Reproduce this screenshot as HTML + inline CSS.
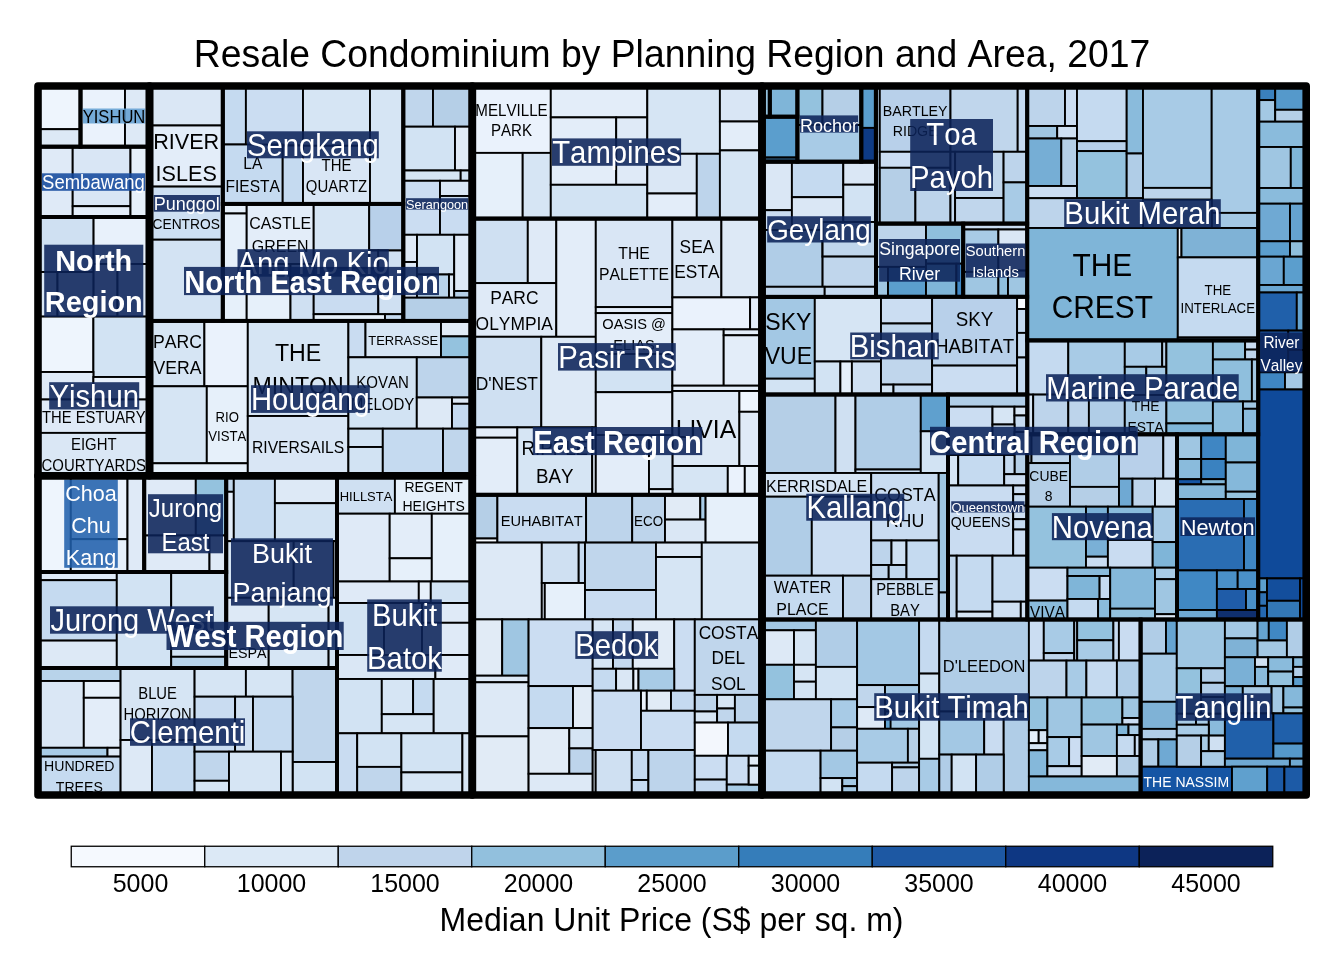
<!DOCTYPE html>
<html><head><meta charset="utf-8"><title>Resale Condominium by Planning Region and Area, 2017</title>
<style>html,body{margin:0;padding:0;background:#fff;}svg{display:block;will-change:transform;}text{font-family:"Liberation Sans", sans-serif;font-kerning:none;}</style></head><body>
<svg width="1344" height="960" viewBox="0 0 1344 960">
<rect x="0" y="0" width="1344" height="960" fill="#ffffff"/>
<text transform="translate(672 66.6) scale(1 1.05)" font-size="37.33" text-anchor="middle" fill="#000">Resale Condominium by Planning Region and Area, 2017</text>
<g fill="#c5daf0">
<rect x="38" y="86" width="42.5" height="60.7"/>
<rect x="80.5" y="86" width="69" height="60.7"/>
<rect x="38" y="146.7" width="111.5" height="70.3"/>
<rect x="38" y="217" width="111.5" height="258.7"/>
<rect x="149.5" y="86" width="73.3" height="234.9"/>
<rect x="222.8" y="86" width="180.5" height="117.9"/>
<rect x="222.8" y="203.9" width="180.5" height="117"/>
<rect x="403.3" y="86" width="69" height="234.9"/>
<rect x="149.5" y="320.9" width="322.8" height="154.8"/>
<rect x="38" y="475.7" width="106.2" height="96.3"/>
<rect x="144.2" y="475.7" width="82" height="96.3"/>
<rect x="38" y="572" width="188.2" height="96"/>
<rect x="226.2" y="475.7" width="110.8" height="192.3"/>
<rect x="38" y="668" width="299" height="127"/>
<rect x="337" y="475.7" width="135.3" height="319.3"/>
<rect x="472.3" y="86" width="289.7" height="132.6"/>
<rect x="472.3" y="218.6" width="289.7" height="276.2"/>
<rect x="472.3" y="494.8" width="289.7" height="300.2"/>
<rect x="762" y="86" width="7.8" height="30.7"/>
<rect x="769.8" y="86" width="27.6" height="30.7"/>
<rect x="762" y="116.7" width="35.4" height="45"/>
<rect x="797.4" y="86" width="63.9" height="75.7"/>
<rect x="861.3" y="86" width="14.5" height="75.7"/>
<rect x="762" y="161.7" width="114" height="135.3"/>
<rect x="876" y="86" width="151.2" height="137.6"/>
<rect x="876" y="223.6" width="87.2" height="73.2"/>
<rect x="963.2" y="223.6" width="64" height="73.2"/>
<rect x="762" y="296.8" width="265.2" height="97.7"/>
<rect x="762" y="394.5" width="186" height="225"/>
<rect x="948" y="394.5" width="79.3" height="225"/>
<rect x="1027.2" y="86" width="231" height="254.4"/>
<rect x="1258.2" y="86" width="48" height="533.5"/>
<rect x="1027.3" y="340.4" width="231" height="93.9"/>
<rect x="1027.3" y="434.3" width="149.7" height="185.2"/>
<rect x="1177" y="434.3" width="81.2" height="185.2"/>
<rect x="762" y="619.5" width="378.6" height="175.5"/>
<rect x="1140.6" y="619.5" width="165.6" height="175.5"/>
</g>
<g stroke="#000" stroke-width="1.9">
<rect x="38" y="86" width="42.5" height="43.2" fill="#eef5fd"/>
<rect x="38" y="129.2" width="42.5" height="17.5" fill="#dde9f6"/>
<rect x="80.5" y="86" width="44.5" height="60.7" fill="#eaf2fc"/>
<rect x="125" y="86" width="24.5" height="60.7" fill="#dde9f6"/>
<rect x="38" y="146.7" width="34.7" height="70.3" fill="#dfeaf7"/>
<rect x="72.7" y="146.7" width="57.8" height="59.5" fill="#d9e6f5"/>
<rect x="72.7" y="206.2" width="57.8" height="10.8" fill="#e4eefa"/>
<rect x="130.5" y="146.7" width="19" height="70.3" fill="#e6f0fa"/>
<rect x="38" y="217" width="55.6" height="55" fill="#cfe0f2"/>
<rect x="93.6" y="217" width="55.9" height="47" fill="#e8f1fb"/>
<rect x="38" y="272" width="19.5" height="44.6" fill="#dae7f5"/>
<rect x="57.5" y="272" width="36.1" height="44.6" fill="#d6e5f4"/>
<rect x="93.6" y="264" width="23.9" height="52.6" fill="#dde9f6"/>
<rect x="117.5" y="264" width="32" height="52.6" fill="#dae7f5"/>
<rect x="38" y="316.6" width="55.4" height="55.4" fill="#eef5fd"/>
<rect x="93.4" y="316.6" width="56.1" height="60.4" fill="#d2e3f3"/>
<rect x="38" y="372" width="55.4" height="27.5" fill="#dfeaf7"/>
<rect x="93.4" y="377" width="56.1" height="22.5" fill="#e8f1fb"/>
<rect x="38" y="399.5" width="111.5" height="33.4" fill="#dfeaf7"/>
<rect x="38" y="432.9" width="111.5" height="42.8" fill="#dae7f5"/>
<rect x="149.5" y="86" width="73.3" height="39.5" fill="#dae7f5"/>
<rect x="149.5" y="125.5" width="73.3" height="61.1" fill="#e3edf9"/>
<rect x="149.5" y="186.6" width="73.3" height="53.1" fill="#cddff2"/>
<rect x="149.5" y="239.7" width="73.3" height="81.2" fill="#d3e3f3"/>
<rect x="222.8" y="86" width="23.1" height="58.5" fill="#c5daf0"/>
<rect x="245.9" y="86" width="57.1" height="59.5" fill="#cbddf2"/>
<rect x="222.8" y="144.5" width="59.9" height="59.4" fill="#c5daf0"/>
<rect x="282.7" y="145.5" width="20.3" height="58.4" fill="#c5daf0"/>
<rect x="303" y="86" width="67" height="59.8" fill="#d6e5f4"/>
<rect x="303" y="145.8" width="67" height="58.1" fill="#d9e6f5"/>
<rect x="370" y="86" width="33.3" height="117.9" fill="#d6e5f4"/>
<rect x="222.8" y="203.9" width="23.9" height="9.6" fill="#e6f0fa"/>
<rect x="222.8" y="213.5" width="23.9" height="107.4" fill="#e6f0fa"/>
<rect x="246.7" y="203.9" width="67" height="60.1" fill="#e3edf9"/>
<rect x="246.7" y="264" width="43.8" height="56.9" fill="#e6f0fa"/>
<rect x="290.5" y="264" width="23.2" height="56.9" fill="#cfe0f2"/>
<rect x="313.7" y="203.9" width="55.5" height="64.1" fill="#d6e5f4"/>
<rect x="369.2" y="203.9" width="34.1" height="46.6" fill="#b8d0ea"/>
<rect x="313.7" y="268" width="64.6" height="46.2" fill="#c9dcf1"/>
<rect x="369.2" y="250.5" width="9.1" height="17.5" fill="#cfe0f2"/>
<rect x="378.3" y="250.5" width="25" height="63.7" fill="#cfe0f2"/>
<rect x="313.7" y="314.2" width="71.3" height="6.7" fill="#e6f0fa"/>
<rect x="385" y="314.2" width="18.3" height="6.7" fill="#c5daf0"/>
<rect x="403.3" y="86" width="29.7" height="40.7" fill="#c0d6ec"/>
<rect x="433" y="86" width="39.3" height="40.7" fill="#b5cfe7"/>
<rect x="403.3" y="126.7" width="51.7" height="43.8" fill="#d2e3f3"/>
<rect x="455" y="126.7" width="17.3" height="43.8" fill="#e1ebf6"/>
<rect x="403.3" y="170.5" width="57.4" height="10.3" fill="#d6e5f4"/>
<rect x="460.7" y="170.5" width="11.6" height="10.3" fill="#d2e3f3"/>
<rect x="403.3" y="180.8" width="36.7" height="54" fill="#cbddf2"/>
<rect x="440" y="180.8" width="32.3" height="15.2" fill="#dae7f5"/>
<rect x="440" y="196" width="32.3" height="38.8" fill="#c9dcf1"/>
<rect x="403.3" y="234.8" width="13.7" height="27.2" fill="#dfeaf7"/>
<rect x="403.3" y="262" width="13.7" height="35.7" fill="#dfeaf7"/>
<rect x="417" y="234.8" width="37.2" height="39.7" fill="#d2e3f3"/>
<rect x="417" y="274.5" width="32" height="23.2" fill="#b8d3ea"/>
<rect x="449" y="274.5" width="5.2" height="23.2" fill="#dde9f6"/>
<rect x="454.2" y="234.8" width="18.1" height="56.2" fill="#dfeaf7"/>
<rect x="454.2" y="291" width="18.1" height="6.7" fill="#b5cfe7"/>
<rect x="403.3" y="297.7" width="69" height="23.2" fill="#b5cfe7"/>
<rect x="149.5" y="320.9" width="54.9" height="65.4" fill="#d6e5f4"/>
<rect x="204.4" y="320.9" width="43.4" height="65.4" fill="#eaf2fc"/>
<rect x="149.5" y="386.3" width="57.3" height="77" fill="#d6e5f4"/>
<rect x="206.8" y="386.3" width="41" height="77" fill="#e6f0fa"/>
<rect x="149.5" y="463.3" width="98.3" height="12.4" fill="#e6f0fa"/>
<rect x="247.8" y="320.9" width="100.6" height="95.1" fill="#d6e5f4"/>
<rect x="247.8" y="416" width="100.6" height="59.7" fill="#d9e6f5"/>
<rect x="348.4" y="320.9" width="17.1" height="36.4" fill="#c9dcf1"/>
<rect x="365.5" y="320.9" width="75.5" height="36.4" fill="#d6e5f4"/>
<rect x="441" y="320.9" width="31.3" height="15.5" fill="#e1ebf6"/>
<rect x="441" y="336.4" width="31.3" height="20.9" fill="#94c2de"/>
<rect x="348.4" y="357.3" width="68.4" height="71.4" fill="#d2e3f3"/>
<rect x="416.8" y="357.3" width="55.5" height="40.2" fill="#bdd4eb"/>
<rect x="416.8" y="397.5" width="35.2" height="31.2" fill="#dde9f6"/>
<rect x="452" y="397.5" width="20.3" height="6.3" fill="#dde9f6"/>
<rect x="452" y="403.8" width="20.3" height="24.9" fill="#c5daf0"/>
<rect x="348.4" y="428.7" width="34.4" height="18.3" fill="#d2e3f3"/>
<rect x="348.4" y="447" width="34.4" height="28.7" fill="#d2e3f3"/>
<rect x="382.8" y="428.7" width="60.2" height="47" fill="#c5daf0"/>
<rect x="443" y="428.7" width="29.3" height="47" fill="#c0d6ec"/>
<rect x="38" y="475.7" width="32.8" height="96.3" fill="#eef5fd"/>
<rect x="70.8" y="475.7" width="56.7" height="63.5" fill="#eaf2fc"/>
<rect x="70.8" y="539.2" width="56.7" height="32.8" fill="#e6f0fa"/>
<rect x="127.5" y="475.7" width="16.7" height="96.3" fill="#dfeaf7"/>
<rect x="144.2" y="475.7" width="51.6" height="59.8" fill="#dfeaf7"/>
<rect x="195.8" y="475.7" width="30.4" height="59.8" fill="#94c2de"/>
<rect x="144.2" y="535.5" width="65.3" height="36.5" fill="#dfeaf7"/>
<rect x="209.5" y="535.5" width="16.7" height="36.5" fill="#dfeaf7"/>
<rect x="38" y="572" width="78.8" height="8.2" fill="#dfeaf7"/>
<rect x="38" y="580.2" width="78.8" height="60.4" fill="#c5daf0"/>
<rect x="38" y="640.6" width="78.8" height="27.4" fill="#dde9f6"/>
<rect x="116.8" y="572" width="54.4" height="96" fill="#d2e3f3"/>
<rect x="171.2" y="572" width="55" height="84.8" fill="#d2e3f3"/>
<rect x="171.2" y="656.8" width="55" height="11.2" fill="#b8d3ea"/>
<rect x="226.2" y="475.7" width="7.6" height="16.1" fill="#c0d6ec"/>
<rect x="226.2" y="491.8" width="7.6" height="49.4" fill="#e3edf9"/>
<rect x="233.8" y="475.7" width="41.1" height="65.5" fill="#c5daf0"/>
<rect x="274.9" y="475.7" width="62.1" height="27.5" fill="#dde9f6"/>
<rect x="274.9" y="503.2" width="62.1" height="38" fill="#d2e3f3"/>
<rect x="226.2" y="541.2" width="67.5" height="56.6" fill="#d6e5f4"/>
<rect x="293.7" y="541.2" width="39.8" height="56.6" fill="#dae7f5"/>
<rect x="333.5" y="541.2" width="3.5" height="56.6" fill="#dde9f6"/>
<rect x="226.2" y="597.8" width="42.5" height="70.2" fill="#dde9f6"/>
<rect x="268.7" y="597.8" width="59.9" height="70.2" fill="#d6e5f4"/>
<rect x="328.6" y="597.8" width="8.4" height="70.2" fill="#d2e3f3"/>
<rect x="38" y="668" width="82.6" height="13" fill="#b8d3ea"/>
<rect x="38" y="681" width="45.8" height="66.8" fill="#dae7f5"/>
<rect x="83.8" y="681" width="36.8" height="16.8" fill="#e6f0fa"/>
<rect x="83.8" y="697.8" width="36.8" height="50" fill="#e3edf9"/>
<rect x="38" y="747.8" width="69.5" height="8.8" fill="#a8cbe6"/>
<rect x="107.5" y="747.8" width="13.1" height="8.8" fill="#dde9f6"/>
<rect x="38" y="756.6" width="82.6" height="38.4" fill="#c5daf0"/>
<rect x="120.6" y="668" width="74" height="72" fill="#d6e5f4"/>
<rect x="120.6" y="740" width="31.4" height="55" fill="#dde9f6"/>
<rect x="152" y="740" width="42.6" height="55" fill="#c5daf0"/>
<rect x="194.6" y="668" width="51.3" height="28.7" fill="#d6e5f4"/>
<rect x="245.9" y="668" width="46.7" height="28.7" fill="#d6e5f4"/>
<rect x="292.6" y="668" width="44.4" height="94" fill="#c0d6ec"/>
<rect x="292.6" y="762" width="44.4" height="33" fill="#d2e3f3"/>
<rect x="194.6" y="696.7" width="40.5" height="55" fill="#c9dcf1"/>
<rect x="235.1" y="696.7" width="17.9" height="55" fill="#cfe0f2"/>
<rect x="253" y="696.7" width="39.6" height="55" fill="#c5daf0"/>
<rect x="194.6" y="751.7" width="34.4" height="29.1" fill="#c0d6ec"/>
<rect x="194.6" y="780.8" width="34.4" height="14.2" fill="#d6e5f4"/>
<rect x="229" y="751.7" width="52" height="43.3" fill="#d6e5f4"/>
<rect x="281" y="751.7" width="11.6" height="43.3" fill="#d6e5f4"/>
<rect x="337" y="475.7" width="57.9" height="38" fill="#cfe0f2"/>
<rect x="394.9" y="475.7" width="77.4" height="38" fill="#e6f0fa"/>
<rect x="337" y="513.7" width="52.7" height="67.8" fill="#dfeaf7"/>
<rect x="389.7" y="513.7" width="42.1" height="44.6" fill="#e3edf9"/>
<rect x="389.7" y="558.3" width="42.1" height="23.2" fill="#e6f0fa"/>
<rect x="431.8" y="513.7" width="40.5" height="67.8" fill="#e6f0fa"/>
<rect x="337" y="581.5" width="81.8" height="21.5" fill="#dfeaf7"/>
<rect x="418.8" y="581.5" width="12" height="21.5" fill="#e6f0fa"/>
<rect x="430.8" y="581.5" width="41.5" height="21.5" fill="#d2e3f3"/>
<rect x="337" y="603" width="47" height="52" fill="#d2e3f3"/>
<rect x="384" y="603" width="38" height="52" fill="#d6e5f4"/>
<rect x="422" y="603" width="50.3" height="19.8" fill="#dfeaf7"/>
<rect x="422" y="622.8" width="50.3" height="32.2" fill="#dfeaf7"/>
<rect x="337" y="655" width="98.4" height="24" fill="#dae7f5"/>
<rect x="435.4" y="655" width="36.9" height="24" fill="#dfeaf7"/>
<rect x="337" y="679" width="44.8" height="54.3" fill="#d2e3f3"/>
<rect x="381.8" y="679" width="31.3" height="35.2" fill="#d6e5f4"/>
<rect x="413.1" y="679" width="20.6" height="35.2" fill="#c5daf0"/>
<rect x="381.8" y="714.2" width="51.9" height="19.1" fill="#d6e5f4"/>
<rect x="433.7" y="679" width="38.6" height="54.3" fill="#d6e5f4"/>
<rect x="337" y="733.3" width="20.2" height="61.7" fill="#c9dcf1"/>
<rect x="357.2" y="733.3" width="44.2" height="33.6" fill="#d2e3f3"/>
<rect x="357.2" y="766.9" width="44.2" height="28.1" fill="#c0d6ec"/>
<rect x="401.4" y="733.3" width="61" height="39.1" fill="#d2e3f3"/>
<rect x="401.4" y="772.4" width="61" height="22.6" fill="#d6e5f4"/>
<rect x="462.4" y="733.3" width="9.9" height="61.7" fill="#d6e5f4"/>
<rect x="472.3" y="86" width="78.5" height="66.9" fill="#eaf2fc"/>
<rect x="472.3" y="152.9" width="50.4" height="65.7" fill="#e6f0fa"/>
<rect x="522.7" y="152.9" width="28.1" height="65.7" fill="#d6e5f4"/>
<rect x="550.8" y="86" width="96.5" height="31.4" fill="#e3edf9"/>
<rect x="550.8" y="117.4" width="65.4" height="67.4" fill="#e3edf9"/>
<rect x="616.2" y="117.4" width="31.1" height="67.4" fill="#dfeaf7"/>
<rect x="550.8" y="184.8" width="96.5" height="33.8" fill="#d2e3f3"/>
<rect x="647.3" y="86" width="72.6" height="67.8" fill="#d6e5f4"/>
<rect x="647.3" y="153.8" width="49.5" height="39.7" fill="#dae7f5"/>
<rect x="647.3" y="193.5" width="49.5" height="25.1" fill="#e3edf9"/>
<rect x="696.8" y="153.8" width="23.1" height="64.8" fill="#bdd4eb"/>
<rect x="719.9" y="86" width="42.1" height="35.5" fill="#d9e6f5"/>
<rect x="719.9" y="121.5" width="42.1" height="28.9" fill="#e3edf9"/>
<rect x="719.9" y="150.4" width="42.1" height="68.2" fill="#d6e5f4"/>
<rect x="472.3" y="218.6" width="55.5" height="64.5" fill="#cfe0f2"/>
<rect x="527.8" y="218.6" width="28.5" height="64.5" fill="#dfeaf7"/>
<rect x="472.3" y="283.1" width="84" height="53.7" fill="#dfeaf7"/>
<rect x="556.3" y="218.6" width="39.5" height="118.2" fill="#e3edf9"/>
<rect x="472.3" y="336.8" width="69" height="90.6" fill="#cfe0f2"/>
<rect x="541.3" y="336.8" width="54.5" height="90.6" fill="#dde9f6"/>
<rect x="595.8" y="218.6" width="76.6" height="88.5" fill="#d9e6f5"/>
<rect x="595.8" y="307.1" width="76.6" height="6" fill="#e3edf9"/>
<rect x="595.8" y="313.1" width="76.6" height="40.9" fill="#e3edf9"/>
<rect x="595.8" y="354" width="76.6" height="38.2" fill="#d2e3f3"/>
<rect x="595.8" y="392.2" width="76.6" height="42.8" fill="#e3edf9"/>
<rect x="672.4" y="218.6" width="49" height="78.8" fill="#dae7f5"/>
<rect x="721.4" y="218.6" width="40.6" height="78.8" fill="#dde9f6"/>
<rect x="672.4" y="297.4" width="77.7" height="32" fill="#eaf2fc"/>
<rect x="750.1" y="297.4" width="11.9" height="32" fill="#e3edf9"/>
<rect x="672.4" y="329.4" width="51.3" height="56.3" fill="#e3edf9"/>
<rect x="723.7" y="329.4" width="38.3" height="5.9" fill="#e3edf9"/>
<rect x="723.7" y="335.3" width="38.3" height="50.4" fill="#e3edf9"/>
<rect x="672.4" y="385.7" width="89.6" height="5.3" fill="#e3edf9"/>
<rect x="672.4" y="391" width="67" height="75" fill="#dde9f6"/>
<rect x="739.4" y="391" width="22.6" height="20.8" fill="#eef5fd"/>
<rect x="739.4" y="411.8" width="22.6" height="54.2" fill="#dfeaf7"/>
<rect x="672.4" y="466" width="55.4" height="28.8" fill="#d6e5f4"/>
<rect x="727.8" y="466" width="17" height="28.8" fill="#eaf2fc"/>
<rect x="744.8" y="466" width="17.2" height="28.8" fill="#e6f0fa"/>
<rect x="472.3" y="427.4" width="45" height="10.3" fill="#e3edf9"/>
<rect x="472.3" y="437.7" width="45" height="57.1" fill="#e3edf9"/>
<rect x="517.3" y="427.4" width="74.9" height="67.4" fill="#d6e5f4"/>
<rect x="592.2" y="427.4" width="3.6" height="67.4" fill="#dde9f6"/>
<rect x="595.8" y="435" width="53.2" height="59.8" fill="#e3edf9"/>
<rect x="649" y="435" width="23.4" height="54.2" fill="#d6e5f4"/>
<rect x="649" y="489.2" width="23.4" height="5.6" fill="#eaf2fc"/>
<rect x="472.3" y="494.8" width="25.1" height="43.7" fill="#b5cfe7"/>
<rect x="472.3" y="538.5" width="25.1" height="4.1" fill="#f7fbff"/>
<rect x="497.4" y="494.8" width="88.7" height="47.8" fill="#c9dcf1"/>
<rect x="586.1" y="494.8" width="46.1" height="47.8" fill="#bdd4eb"/>
<rect x="632.2" y="494.8" width="32.8" height="47.8" fill="#bdd4eb"/>
<rect x="665" y="494.8" width="35.3" height="24.8" fill="#e1ebf6"/>
<rect x="700.3" y="494.8" width="5.3" height="24.8" fill="#a8cbe6"/>
<rect x="665" y="519.6" width="40.6" height="23" fill="#dae7f5"/>
<rect x="705.6" y="494.8" width="56.4" height="47.8" fill="#e6f0fa"/>
<rect x="472.3" y="542.6" width="69.5" height="76.8" fill="#dde9f6"/>
<rect x="541.8" y="542.6" width="36.9" height="40.4" fill="#cfe0f2"/>
<rect x="578.7" y="542.6" width="6.3" height="40.4" fill="#c5daf0"/>
<rect x="541.8" y="583" width="3" height="36.4" fill="#dde9f6"/>
<rect x="544.8" y="583" width="40.2" height="36.4" fill="#e6f0fa"/>
<rect x="585" y="542.6" width="71" height="47.4" fill="#c0d6ec"/>
<rect x="585" y="590" width="71" height="29.4" fill="#c9dcf1"/>
<rect x="656" y="542.6" width="45.8" height="14.4" fill="#dae7f5"/>
<rect x="656" y="557" width="45.8" height="62.4" fill="#d6e5f4"/>
<rect x="701.8" y="542.6" width="60.2" height="76.8" fill="#d6e5f4"/>
<rect x="472.3" y="619.4" width="29.9" height="56.3" fill="#e1ebf6"/>
<rect x="502.2" y="619.4" width="26.4" height="56.3" fill="#9fc6e2"/>
<rect x="472.3" y="675.7" width="56.3" height="6.6" fill="#dde9f6"/>
<rect x="472.3" y="682.3" width="56.3" height="54.1" fill="#dde9f6"/>
<rect x="472.3" y="736.4" width="56.3" height="58.6" fill="#e1ebf6"/>
<rect x="528.6" y="619.4" width="64.1" height="66.7" fill="#cbddf2"/>
<rect x="528.6" y="686.1" width="44.4" height="42" fill="#c5daf0"/>
<rect x="573" y="686.1" width="19.7" height="42" fill="#e1ebf6"/>
<rect x="528.6" y="728.1" width="40.7" height="45.7" fill="#e1ebf6"/>
<rect x="569.3" y="728.1" width="23.4" height="20.3" fill="#d6e5f4"/>
<rect x="569.3" y="748.4" width="23.4" height="25.4" fill="#bdd4eb"/>
<rect x="528.6" y="773.8" width="64.1" height="21.2" fill="#dde9f6"/>
<rect x="592.7" y="619.4" width="20.3" height="49.4" fill="#d6e5f4"/>
<rect x="613" y="619.4" width="19.8" height="49.4" fill="#c5daf0"/>
<rect x="632.8" y="619.4" width="41.4" height="49.4" fill="#e1ebf6"/>
<rect x="674.2" y="619.4" width="20.6" height="71.3" fill="#cbddf2"/>
<rect x="592.7" y="668.8" width="23.4" height="21.9" fill="#c5daf0"/>
<rect x="616.1" y="668.8" width="17.3" height="21.9" fill="#dae7f5"/>
<rect x="633.4" y="668.8" width="5.1" height="21.9" fill="#eaf2fc"/>
<rect x="638.5" y="668.8" width="35.7" height="21.9" fill="#a8cbe6"/>
<rect x="592.7" y="690.7" width="48.3" height="59.3" fill="#cbddf2"/>
<rect x="641" y="690.7" width="5.8" height="20.1" fill="#eaf2fc"/>
<rect x="646.8" y="690.7" width="24.2" height="20.1" fill="#e1ebf6"/>
<rect x="671" y="690.7" width="23.8" height="20.1" fill="#c5daf0"/>
<rect x="641" y="710.8" width="53.8" height="39.2" fill="#cbddf2"/>
<rect x="592.7" y="750" width="3" height="45" fill="#dde9f6"/>
<rect x="595.7" y="750" width="36.1" height="45" fill="#cfe0f2"/>
<rect x="631.8" y="750" width="16.6" height="30" fill="#c5daf0"/>
<rect x="631.8" y="780" width="16.6" height="15" fill="#c5daf0"/>
<rect x="648.4" y="750" width="46.4" height="45" fill="#bdd4eb"/>
<rect x="694.8" y="619.4" width="67.2" height="75.5" fill="#c0d6ec"/>
<rect x="694.8" y="694.9" width="22.3" height="16.6" fill="#bdd4eb"/>
<rect x="694.8" y="711.5" width="22.3" height="11.1" fill="#d6e5f4"/>
<rect x="717.1" y="694.9" width="17.8" height="13.6" fill="#d6e5f4"/>
<rect x="717.1" y="708.5" width="17.8" height="14.1" fill="#c0d6ec"/>
<rect x="734.9" y="694.9" width="27.1" height="27.7" fill="#bdd4eb"/>
<rect x="694.8" y="722.6" width="33.2" height="33.2" fill="#f3f7fd"/>
<rect x="728" y="722.6" width="34" height="33.2" fill="#c5daf0"/>
<rect x="694.8" y="755.8" width="32" height="23.8" fill="#cbddf2"/>
<rect x="694.8" y="779.6" width="32" height="15.4" fill="#c5daf0"/>
<rect x="726.8" y="755.8" width="21.9" height="28.8" fill="#cbddf2"/>
<rect x="726.8" y="784.6" width="35.2" height="10.4" fill="#a8cbe6"/>
<rect x="748.7" y="755.8" width="13.3" height="9.9" fill="#e1ebf6"/>
<rect x="748.7" y="765.7" width="13.3" height="18.9" fill="#dae7f5"/>
<rect x="762" y="86" width="7.8" height="30.7" fill="#94c2de"/>
<rect x="769.8" y="86" width="27.6" height="30.7" fill="#7fb5d8"/>
<rect x="762" y="116.7" width="35.4" height="40.8" fill="#5b9ecd"/>
<rect x="762" y="157.5" width="35.4" height="4.2" fill="#2f5f88"/>
<rect x="797.4" y="86" width="25.1" height="39" fill="#94c2de"/>
<rect x="822.5" y="86" width="38.8" height="39" fill="#b5cfe7"/>
<rect x="797.4" y="125" width="63.9" height="36.7" fill="#a8cbe6"/>
<rect x="861.3" y="86" width="14.5" height="41.9" fill="#5b9ecd"/>
<rect x="861.3" y="127.9" width="14.5" height="33.8" fill="#0e3b85"/>
<rect x="762" y="161.7" width="29.9" height="48.5" fill="#dae7f5"/>
<rect x="762" y="210.2" width="29.9" height="19.8" fill="#cbddf2"/>
<rect x="791.9" y="161.7" width="51.4" height="35.5" fill="#c5daf0"/>
<rect x="791.9" y="197.2" width="51.4" height="32.8" fill="#dae7f5"/>
<rect x="843.3" y="161.7" width="32.7" height="23" fill="#dae7f5"/>
<rect x="843.3" y="184.7" width="32.7" height="37.3" fill="#d2e3f3"/>
<rect x="762" y="230" width="60.6" height="56.8" fill="#b0cde7"/>
<rect x="822.6" y="230" width="20.7" height="26.6" fill="#c0d6ec"/>
<rect x="822.6" y="222" width="53.4" height="34.6" fill="#c0d6ec"/>
<rect x="822.6" y="256.6" width="53.4" height="30.2" fill="#c0d6ec"/>
<rect x="762" y="286.8" width="62.7" height="10.2" fill="#c0d6ec"/>
<rect x="824.7" y="286.8" width="51.3" height="10.2" fill="#c5daf0"/>
<rect x="876" y="86" width="3.8" height="137.6" fill="#b5cfe7"/>
<rect x="879.8" y="86" width="70.7" height="65.8" fill="#b8d0ea"/>
<rect x="950.5" y="86" width="67.2" height="65.8" fill="#c0d6ec"/>
<rect x="1017.7" y="86" width="9.5" height="65.8" fill="#c5daf0"/>
<rect x="879.8" y="151.8" width="70.7" height="16" fill="#cbddf2"/>
<rect x="879.8" y="167.8" width="35.6" height="55.8" fill="#b5cfe7"/>
<rect x="915.4" y="167.8" width="35.1" height="55.8" fill="#bdd4eb"/>
<rect x="950.5" y="151.8" width="4.6" height="71.8" fill="#c5daf0"/>
<rect x="955.1" y="151.8" width="48.5" height="46.2" fill="#c0d6ec"/>
<rect x="955.1" y="198" width="48.5" height="25.6" fill="#c0d6ec"/>
<rect x="1003.6" y="151.8" width="23.6" height="30.6" fill="#bdd4eb"/>
<rect x="1003.6" y="182.4" width="23.6" height="41.2" fill="#a8cbe6"/>
<rect x="876" y="223.6" width="50" height="43.3" fill="#bdd4eb"/>
<rect x="926" y="223.6" width="37.2" height="40.1" fill="#8fbfdd"/>
<rect x="876" y="266.9" width="12" height="29.9" fill="#9fc6e2"/>
<rect x="888" y="266.9" width="38" height="29.9" fill="#5b9ecd"/>
<rect x="926" y="263.7" width="30.4" height="33.1" fill="#7fb5d8"/>
<rect x="956.4" y="263.7" width="6.8" height="33.1" fill="#4088c4"/>
<rect x="963.2" y="223.6" width="64" height="5.9" fill="#c9dcf1"/>
<rect x="963.2" y="229.5" width="35.2" height="42.4" fill="#a8cbe6"/>
<rect x="998.4" y="229.5" width="28.8" height="41.1" fill="#dae7f5"/>
<rect x="963.2" y="271.9" width="35.2" height="24.9" fill="#9fc6e2"/>
<rect x="998.4" y="270.6" width="9.6" height="26.2" fill="#8fbfdd"/>
<rect x="1008" y="270.6" width="19.2" height="26.2" fill="#9fc6e2"/>
<rect x="762" y="296.8" width="52.8" height="81.9" fill="#a3c8e4"/>
<rect x="762" y="378.7" width="52.8" height="15.8" fill="#d2e3f3"/>
<rect x="814.8" y="296.8" width="66.2" height="64.7" fill="#d6e5f4"/>
<rect x="814.8" y="361.5" width="25.6" height="33" fill="#d2e3f3"/>
<rect x="840.4" y="361.5" width="11.5" height="33" fill="#e6f0fa"/>
<rect x="851.9" y="361.5" width="29.1" height="33" fill="#cfe0f2"/>
<rect x="881" y="296.8" width="51.1" height="26.7" fill="#cbddf2"/>
<rect x="881" y="323.5" width="51.1" height="61.1" fill="#c0d6ec"/>
<rect x="881" y="384.6" width="12.5" height="9.9" fill="#d2e3f3"/>
<rect x="893.5" y="384.6" width="38.6" height="9.9" fill="#c5daf0"/>
<rect x="932.1" y="296.8" width="85" height="68.8" fill="#b8d0ea"/>
<rect x="932.1" y="365.6" width="85" height="28.9" fill="#cbddf2"/>
<rect x="1017.1" y="296.8" width="10.1" height="12.2" fill="#f7fbff"/>
<rect x="1017.1" y="309" width="10.1" height="23.9" fill="#c5daf0"/>
<rect x="1017.1" y="332.9" width="10.1" height="24.6" fill="#c5daf0"/>
<rect x="1017.1" y="357.5" width="10.1" height="37" fill="#c5daf0"/>
<rect x="762" y="394.5" width="73.5" height="78.5" fill="#b5cfe7"/>
<rect x="835.5" y="394.5" width="20" height="78.5" fill="#cfe0f2"/>
<rect x="855.5" y="394.5" width="65.3" height="75" fill="#b0cde7"/>
<rect x="855.5" y="469.5" width="65.3" height="3.5" fill="#cbddf2"/>
<rect x="920.8" y="394.5" width="27.2" height="36.8" fill="#5fa0ce"/>
<rect x="920.8" y="431.3" width="27.2" height="41.7" fill="#d2e3f3"/>
<rect x="762" y="473" width="109.2" height="23.7" fill="#d6e5f4"/>
<rect x="762" y="496.7" width="49.8" height="79" fill="#b0cde7"/>
<rect x="811.8" y="496.7" width="59.4" height="79" fill="#cbddf2"/>
<rect x="762" y="575.7" width="81" height="43.8" fill="#c5daf0"/>
<rect x="843" y="575.7" width="28.2" height="43.8" fill="#c0d6ec"/>
<rect x="871.2" y="473" width="67.5" height="67.5" fill="#c9dcf1"/>
<rect x="938.7" y="473" width="9.3" height="119.5" fill="#9fc6e2"/>
<rect x="938.7" y="592.5" width="9.3" height="27" fill="#b0cde7"/>
<rect x="871.2" y="540.5" width="20.3" height="24.5" fill="#bdd4eb"/>
<rect x="891.5" y="540.5" width="15" height="24.5" fill="#cfe0f2"/>
<rect x="871.2" y="565" width="17.5" height="14.2" fill="#c0d6ec"/>
<rect x="888.7" y="565" width="17.8" height="14.2" fill="#c0d6ec"/>
<rect x="906.5" y="540.5" width="32.2" height="38.7" fill="#c5daf0"/>
<rect x="871.2" y="579.2" width="67.5" height="40.3" fill="#c9dcf1"/>
<rect x="948" y="394.5" width="79.3" height="12.2" fill="#b0cde7"/>
<rect x="948" y="406.7" width="44.5" height="48.3" fill="#cbddf2"/>
<rect x="992.5" y="406.7" width="22" height="17.8" fill="#d6e5f4"/>
<rect x="1014.5" y="406.7" width="12.8" height="8.8" fill="#d6e5f4"/>
<rect x="1014.5" y="415.5" width="12.8" height="16.5" fill="#c5daf0"/>
<rect x="992.5" y="424.5" width="22" height="30.5" fill="#cbddf2"/>
<rect x="1014.5" y="432" width="12.8" height="42.2" fill="#b5cfe7"/>
<rect x="948" y="455" width="10.2" height="30.5" fill="#d6e5f4"/>
<rect x="958.2" y="455" width="46" height="30.5" fill="#c5daf0"/>
<rect x="1004.2" y="455" width="10.3" height="19.2" fill="#c5daf0"/>
<rect x="1004.2" y="474.2" width="23.1" height="11.3" fill="#cbddf2"/>
<rect x="948" y="485.5" width="65.2" height="70.2" fill="#c9dcf1"/>
<rect x="1013.2" y="485.5" width="14.1" height="8.7" fill="#cbddf2"/>
<rect x="1013.2" y="494.2" width="14.1" height="11.5" fill="#c5daf0"/>
<rect x="1013.2" y="505.7" width="14.1" height="13.5" fill="#cfe0f2"/>
<rect x="1013.2" y="519.2" width="14.1" height="10.3" fill="#c5daf0"/>
<rect x="1013.2" y="529.5" width="14.1" height="26.2" fill="#cbddf2"/>
<rect x="948" y="555.7" width="8.7" height="63.8" fill="#c0d6ec"/>
<rect x="956.7" y="555.7" width="35.8" height="56" fill="#c5daf0"/>
<rect x="956.7" y="611.7" width="35.8" height="7.8" fill="#d6e5f4"/>
<rect x="992.5" y="555.7" width="34.8" height="46" fill="#c5daf0"/>
<rect x="992.5" y="601.7" width="28.3" height="17.8" fill="#cfe0f2"/>
<rect x="1020.8" y="601.7" width="6.5" height="17.8" fill="#cfe0f2"/>
<rect x="1027.2" y="86" width="37.8" height="40" fill="#bdd4eb"/>
<rect x="1065" y="86" width="12" height="40" fill="#cbddf2"/>
<rect x="1027.2" y="126" width="30" height="12.5" fill="#9fc6e2"/>
<rect x="1057.2" y="126" width="19.8" height="12.5" fill="#cfe0f2"/>
<rect x="1027.2" y="138.5" width="34.1" height="47.5" fill="#76aed5"/>
<rect x="1061.3" y="138.5" width="15.7" height="47.5" fill="#b5cfe7"/>
<rect x="1027.2" y="186" width="49.8" height="12.2" fill="#cbddf2"/>
<rect x="1077" y="86" width="49.7" height="55.2" fill="#c5daf0"/>
<rect x="1077" y="141.2" width="49.7" height="9.9" fill="#b8d0ea"/>
<rect x="1077" y="151.1" width="49.7" height="47.1" fill="#94c2de"/>
<rect x="1126.7" y="86" width="16.3" height="67.5" fill="#8abbdc"/>
<rect x="1126.7" y="153.5" width="16.3" height="44.7" fill="#b0cde7"/>
<rect x="1143" y="86" width="68.7" height="101.9" fill="#a8cbe6"/>
<rect x="1143" y="187.9" width="68.7" height="11.8" fill="#bdd4eb"/>
<rect x="1211.7" y="86" width="46.5" height="126.9" fill="#a8cbe6"/>
<rect x="1211.7" y="212.9" width="46.5" height="15.1" fill="#a3c8e4"/>
<rect x="1027.2" y="198.2" width="115.8" height="29.8" fill="#bdd4eb"/>
<rect x="1143" y="199.7" width="68.7" height="28.3" fill="#a8cbe6"/>
<rect x="1027.2" y="228" width="150.6" height="112.4" fill="#7fb5d8"/>
<rect x="1177.8" y="228" width="3.7" height="29.4" fill="#eef5fd"/>
<rect x="1181.5" y="228" width="76.7" height="29.4" fill="#7fb2d6"/>
<rect x="1177.8" y="257.4" width="80.4" height="80.1" fill="#c5daf0"/>
<rect x="1177.8" y="337.5" width="80.4" height="2.9" fill="#7fb5d8"/>
<rect x="1258.2" y="86" width="17" height="14.1" fill="#3a80bd"/>
<rect x="1258.2" y="100.1" width="17" height="21.6" fill="#a3c8e4"/>
<rect x="1275.2" y="86" width="31" height="23.8" fill="#5599cb"/>
<rect x="1275.2" y="109.8" width="31" height="11.9" fill="#b5cfe7"/>
<rect x="1258.2" y="121.7" width="48" height="25.3" fill="#8abbdc"/>
<rect x="1258.2" y="147" width="32.6" height="41" fill="#9fc6e2"/>
<rect x="1290.8" y="147" width="15.4" height="41" fill="#7fb5d8"/>
<rect x="1258.2" y="188" width="48" height="15.7" fill="#8abbdc"/>
<rect x="1258.2" y="203.7" width="31.8" height="37.6" fill="#6fa9d3"/>
<rect x="1290" y="203.7" width="16.2" height="37.6" fill="#65a3d0"/>
<rect x="1258.2" y="241.3" width="31.8" height="15.4" fill="#5b9ecd"/>
<rect x="1290" y="241.3" width="16.2" height="15.4" fill="#8fbfdd"/>
<rect x="1258.2" y="256.7" width="25.6" height="28.3" fill="#6aa6d2"/>
<rect x="1283.8" y="256.7" width="22.4" height="28.3" fill="#5b9ecd"/>
<rect x="1258.2" y="285" width="48" height="7.5" fill="#6aa6d2"/>
<rect x="1258.2" y="292.5" width="38.6" height="38.1" fill="#2060aa"/>
<rect x="1296.8" y="292.5" width="9.4" height="38.1" fill="#65a3d0"/>
<rect x="1258.2" y="330.6" width="30.1" height="41.7" fill="#1d58a3"/>
<rect x="1288.3" y="330.6" width="17.9" height="19.4" fill="#2060aa"/>
<rect x="1288.3" y="350" width="17.9" height="22.3" fill="#1d58a3"/>
<rect x="1258.2" y="372.3" width="26.8" height="17.2" fill="#3f86c3"/>
<rect x="1285" y="372.3" width="21.2" height="17.2" fill="#a3c8e4"/>
<rect x="1258.2" y="389.5" width="48" height="188.9" fill="#0f4a9a"/>
<rect x="1258.2" y="578.4" width="8.8" height="13.9" fill="#5b9ecd"/>
<rect x="1258.2" y="592.3" width="8.8" height="13.5" fill="#2f72b4"/>
<rect x="1258.2" y="605.8" width="8.8" height="13.7" fill="#2468b0"/>
<rect x="1267" y="578.4" width="33" height="22.4" fill="#134e9c"/>
<rect x="1267" y="600.8" width="33" height="18.7" fill="#3378b6"/>
<rect x="1300" y="578.4" width="6.2" height="41.1" fill="#0f4a9a"/>
<rect x="1027.3" y="340.4" width="41" height="54.2" fill="#c5daf0"/>
<rect x="1027.3" y="394.6" width="5.9" height="39.7" fill="#d6e5f4"/>
<rect x="1033.2" y="394.6" width="35.1" height="39.7" fill="#bdd4eb"/>
<rect x="1068.3" y="340.4" width="56.5" height="57.6" fill="#a8cbe6"/>
<rect x="1068.3" y="398" width="20.6" height="36.3" fill="#bdd4eb"/>
<rect x="1088.9" y="398" width="35.9" height="36.3" fill="#b0cde7"/>
<rect x="1124.8" y="340.4" width="37.4" height="26.4" fill="#a8cbe6"/>
<rect x="1162.2" y="340.4" width="4.2" height="26.4" fill="#b5cfe7"/>
<rect x="1124.8" y="366.8" width="21.5" height="28.2" fill="#9fc6e2"/>
<rect x="1146.3" y="366.8" width="20.1" height="28.2" fill="#a3c8e4"/>
<rect x="1124.8" y="395" width="41.6" height="39.3" fill="#a8cbe6"/>
<rect x="1166.4" y="340.4" width="46.5" height="83" fill="#94c2de"/>
<rect x="1166.4" y="423.4" width="46.5" height="10.9" fill="#7fb5d8"/>
<rect x="1212.9" y="340.4" width="32.2" height="19.1" fill="#94c2de"/>
<rect x="1245.1" y="340.4" width="13.2" height="9.2" fill="#c9dcf1"/>
<rect x="1245.1" y="349.6" width="13.2" height="9.9" fill="#bdd4eb"/>
<rect x="1212.9" y="359.5" width="39" height="42" fill="#8fbfdd"/>
<rect x="1251.9" y="359.5" width="6.4" height="42" fill="#a3c8e4"/>
<rect x="1212.9" y="401.5" width="30.1" height="32.8" fill="#8fbfdd"/>
<rect x="1243" y="401.5" width="15.3" height="7.3" fill="#9fc6e2"/>
<rect x="1243" y="408.8" width="15.3" height="25.5" fill="#8abbdc"/>
<rect x="1027.3" y="434.3" width="4.2" height="28.8" fill="#cbddf2"/>
<rect x="1031.5" y="434.3" width="38.5" height="28.8" fill="#bdd4eb"/>
<rect x="1027.3" y="463.1" width="42.7" height="43.6" fill="#b5cfe7"/>
<rect x="1070" y="434.3" width="49" height="52.6" fill="#b0cde7"/>
<rect x="1070" y="486.9" width="49" height="19.8" fill="#b5cfe7"/>
<rect x="1119" y="434.3" width="44.3" height="44.4" fill="#b8d0ea"/>
<rect x="1163.3" y="434.3" width="13.7" height="44.4" fill="#c5daf0"/>
<rect x="1119" y="478.7" width="13.5" height="28" fill="#6fa9d3"/>
<rect x="1132.5" y="478.7" width="22.5" height="28" fill="#bdd4eb"/>
<rect x="1155" y="478.7" width="22" height="28" fill="#d2e3f3"/>
<rect x="1027.3" y="506.7" width="58.7" height="61" fill="#94c2de"/>
<rect x="1086" y="506.7" width="21.9" height="50" fill="#7ab0d6"/>
<rect x="1086" y="556.7" width="21.9" height="11" fill="#c9dcf1"/>
<rect x="1107.9" y="506.7" width="44.8" height="33.3" fill="#8abbdc"/>
<rect x="1107.9" y="540" width="44.8" height="27.7" fill="#c9dcf1"/>
<rect x="1152.7" y="506.7" width="24.3" height="35.4" fill="#a8cbe6"/>
<rect x="1152.7" y="542.1" width="24.3" height="25.6" fill="#7fb5d8"/>
<rect x="1027.3" y="567.7" width="40.2" height="32.9" fill="#cbddf2"/>
<rect x="1027.3" y="600.6" width="40.2" height="18.9" fill="#8abbdc"/>
<rect x="1067.5" y="567.7" width="42.7" height="8.3" fill="#8abbdc"/>
<rect x="1067.5" y="576" width="32.1" height="23" fill="#7fb5d8"/>
<rect x="1099.6" y="576" width="10.6" height="23" fill="#c5daf0"/>
<rect x="1067.5" y="599" width="30.6" height="20.5" fill="#c5daf0"/>
<rect x="1098.1" y="599" width="12.1" height="20.5" fill="#8abbdc"/>
<rect x="1110.2" y="567.7" width="44.8" height="41" fill="#85b8da"/>
<rect x="1110.2" y="608.7" width="44.8" height="10.8" fill="#94c2de"/>
<rect x="1155" y="567.7" width="22" height="11.5" fill="#a8cbe6"/>
<rect x="1155" y="579.2" width="22" height="35" fill="#9fc6e2"/>
<rect x="1155" y="614.2" width="22" height="5.3" fill="#dde9f6"/>
<rect x="1177" y="434.3" width="24.2" height="24.7" fill="#9fc6e2"/>
<rect x="1201.2" y="434.3" width="24.6" height="24.7" fill="#3f86c3"/>
<rect x="1177" y="459" width="24.2" height="20.2" fill="#8abbdc"/>
<rect x="1201.2" y="459" width="24.6" height="20.2" fill="#3a82c0"/>
<rect x="1177" y="479.2" width="24.2" height="5.2" fill="#1555a4"/>
<rect x="1201.2" y="479.2" width="24.6" height="5.2" fill="#7fb5d8"/>
<rect x="1177" y="484.4" width="48.8" height="14.6" fill="#85b8da"/>
<rect x="1225.8" y="434.3" width="32.4" height="28.2" fill="#7fb5d8"/>
<rect x="1225.8" y="462.5" width="32.4" height="29.2" fill="#85b8da"/>
<rect x="1225.8" y="491.7" width="32.4" height="7.3" fill="#94c2de"/>
<rect x="1177" y="499" width="67" height="71.4" fill="#2a6db3"/>
<rect x="1244" y="499" width="14.2" height="71.4" fill="#3f86c3"/>
<rect x="1177" y="570.4" width="39.9" height="39.6" fill="#4088c4"/>
<rect x="1177" y="610" width="39.9" height="9.5" fill="#6fa9d3"/>
<rect x="1216.9" y="570.4" width="20.8" height="18.6" fill="#4a90c8"/>
<rect x="1237.7" y="570.4" width="20.5" height="18.6" fill="#4a90c8"/>
<rect x="1216.9" y="589" width="29.1" height="21" fill="#1f5ca8"/>
<rect x="1246" y="589" width="12.2" height="21" fill="#4a90c8"/>
<rect x="1216.9" y="610" width="41.3" height="9.5" fill="#0f2f6e"/>
<rect x="762" y="619.5" width="53.9" height="10.8" fill="#a3c8e4"/>
<rect x="762" y="630.3" width="32" height="34.5" fill="#dde9f6"/>
<rect x="794" y="630.3" width="21.9" height="34.5" fill="#d6e5f4"/>
<rect x="762" y="664.8" width="32" height="34.5" fill="#94c2de"/>
<rect x="794" y="664.8" width="21.9" height="16.9" fill="#d6e5f4"/>
<rect x="794" y="681.7" width="21.9" height="17.6" fill="#d2e3f3"/>
<rect x="815.9" y="619.5" width="41.2" height="47.4" fill="#b0cde7"/>
<rect x="815.9" y="666.9" width="41.2" height="32.4" fill="#d2e3f3"/>
<rect x="762" y="699.3" width="69.1" height="51.4" fill="#c0d6ec"/>
<rect x="831.1" y="699.3" width="26" height="28.1" fill="#a8cbe6"/>
<rect x="831.1" y="727.4" width="26" height="23.3" fill="#b5cfe7"/>
<rect x="762" y="750.7" width="58.6" height="44.3" fill="#c5daf0"/>
<rect x="820.6" y="750.7" width="36.5" height="27.4" fill="#a3c8e4"/>
<rect x="820.6" y="778.1" width="21.7" height="16.9" fill="#d2e3f3"/>
<rect x="842.3" y="778.1" width="14.8" height="8.1" fill="#a3c8e4"/>
<rect x="842.3" y="786.2" width="14.8" height="8.8" fill="#a3c8e4"/>
<rect x="857.1" y="619.5" width="62" height="65.6" fill="#a3c8e4"/>
<rect x="857.1" y="685.1" width="27.9" height="22" fill="#c0d6ec"/>
<rect x="885" y="685.1" width="34.1" height="26.4" fill="#a3c8e4"/>
<rect x="885" y="711.5" width="34.1" height="17.3" fill="#a3c8e4"/>
<rect x="857.1" y="707.1" width="27.9" height="21.7" fill="#dde9f6"/>
<rect x="885" y="718" width="5.6" height="10.8" fill="#5fa0ce"/>
<rect x="857.1" y="728.8" width="50.8" height="33.9" fill="#a8cbe6"/>
<rect x="907.9" y="728.8" width="11.2" height="33.9" fill="#b5cfe7"/>
<rect x="857.1" y="762.7" width="35" height="32.3" fill="#c5daf0"/>
<rect x="892.1" y="762.7" width="27" height="4.7" fill="#b0cde7"/>
<rect x="892.1" y="767.4" width="27" height="27.6" fill="#bdd4eb"/>
<rect x="919.1" y="619.5" width="20.2" height="54.1" fill="#c5daf0"/>
<rect x="919.1" y="673.6" width="20.2" height="85.2" fill="#d2e3f3"/>
<rect x="919.1" y="758.8" width="20.2" height="36.2" fill="#a8cbe6"/>
<rect x="939.3" y="619.5" width="89.6" height="92" fill="#b0cde7"/>
<rect x="939.3" y="711.5" width="44.9" height="43.1" fill="#a3c8e4"/>
<rect x="984.2" y="711.5" width="19.5" height="43.1" fill="#c9dcf1"/>
<rect x="1003.7" y="711.5" width="25.2" height="83.5" fill="#b0cde7"/>
<rect x="939.3" y="754.6" width="12.4" height="40.4" fill="#b0cde7"/>
<rect x="951.7" y="754.6" width="24.4" height="40.4" fill="#d2e3f3"/>
<rect x="976.1" y="754.6" width="27.6" height="40.4" fill="#b0cde7"/>
<rect x="1028.9" y="619.5" width="14.9" height="41.1" fill="#cbddf2"/>
<rect x="1043.8" y="619.5" width="30.4" height="33.6" fill="#a8cbe6"/>
<rect x="1043.8" y="653.1" width="30.4" height="7.5" fill="#bdd4eb"/>
<rect x="1074.2" y="619.5" width="3" height="41.1" fill="#b5cfe7"/>
<rect x="1077.2" y="619.5" width="36.2" height="20.8" fill="#94c2de"/>
<rect x="1077.2" y="640.3" width="36.2" height="20.3" fill="#a8cbe6"/>
<rect x="1113.4" y="619.5" width="5.5" height="41.1" fill="#c5daf0"/>
<rect x="1118.9" y="619.5" width="21.7" height="41.1" fill="#c9dcf1"/>
<rect x="1028.9" y="660.6" width="37.6" height="36.9" fill="#bdd4eb"/>
<rect x="1066.5" y="660.6" width="19.9" height="36.9" fill="#a8cbe6"/>
<rect x="1086.4" y="660.6" width="30.5" height="36.9" fill="#c5daf0"/>
<rect x="1116.9" y="660.6" width="23.7" height="36.9" fill="#b0cde7"/>
<rect x="1028.9" y="697.5" width="18.5" height="32.7" fill="#94c2de"/>
<rect x="1028.9" y="730.2" width="9.8" height="13" fill="#e6f0fa"/>
<rect x="1038.7" y="730.2" width="8.7" height="13" fill="#d6e5f4"/>
<rect x="1028.9" y="743.2" width="18.5" height="7.1" fill="#d6e5f4"/>
<rect x="1028.9" y="750.3" width="18.5" height="26.2" fill="#85b8da"/>
<rect x="1047.4" y="697.5" width="34.3" height="39.6" fill="#9fc6e2"/>
<rect x="1047.4" y="737.1" width="21.7" height="29.1" fill="#a8cbe6"/>
<rect x="1069.1" y="737.1" width="12.6" height="29.1" fill="#cbddf2"/>
<rect x="1047.4" y="766.2" width="34.3" height="10.3" fill="#c5daf0"/>
<rect x="1081.7" y="697.5" width="40.7" height="27.1" fill="#94c2de"/>
<rect x="1122.4" y="697.5" width="18.2" height="20.5" fill="#9fc6e2"/>
<rect x="1122.4" y="718" width="18.2" height="6.6" fill="#cbddf2"/>
<rect x="1081.7" y="724.6" width="35.2" height="31.4" fill="#9fc6e2"/>
<rect x="1116.9" y="724.6" width="11.6" height="10.5" fill="#7fb5d8"/>
<rect x="1128.5" y="724.6" width="12.1" height="10.5" fill="#a8cbe6"/>
<rect x="1116.9" y="735.1" width="17.9" height="20.9" fill="#c5daf0"/>
<rect x="1134.8" y="735.1" width="5.8" height="20.9" fill="#cbddf2"/>
<rect x="1081.7" y="756" width="35.2" height="20.5" fill="#e1ebf6"/>
<rect x="1116.9" y="756" width="23.7" height="20.5" fill="#b5cfe7"/>
<rect x="1028.9" y="776.5" width="111.7" height="18.5" fill="#85b8da"/>
<rect x="1140.6" y="619.5" width="25.4" height="34.2" fill="#b0cde7"/>
<rect x="1166" y="619.5" width="10.8" height="34.2" fill="#65a3d0"/>
<rect x="1140.6" y="653.7" width="36.2" height="48.1" fill="#a8cbe6"/>
<rect x="1140.6" y="701.8" width="36.2" height="27.1" fill="#7fb2d6"/>
<rect x="1140.6" y="728.9" width="36.2" height="10.5" fill="#b0cde7"/>
<rect x="1140.6" y="739.4" width="17.8" height="27.3" fill="#b0cde7"/>
<rect x="1158.4" y="739.4" width="18.4" height="27.3" fill="#6fa9d3"/>
<rect x="1140.6" y="766.7" width="91.4" height="28.3" fill="#1555a4"/>
<rect x="1176.8" y="619.5" width="48.1" height="48.8" fill="#9fc6e2"/>
<rect x="1176.8" y="668.3" width="24.3" height="45.45" fill="#94c2de"/>
<rect x="1201.1" y="668.3" width="23.8" height="14.5" fill="#b0cde7"/>
<rect x="1201.1" y="682.8" width="23.8" height="14.2" fill="#b0cde7"/>
<rect x="1201.1" y="697" width="23.8" height="16.75" fill="#a3c8e4"/>
<rect x="1176.8" y="713.75" width="19.2" height="11" fill="#a8cbe6"/>
<rect x="1196" y="713.75" width="12.8" height="11" fill="#a8cbe6"/>
<rect x="1208.8" y="713.75" width="16.1" height="21.85" fill="#8abbdc"/>
<rect x="1176.8" y="724.75" width="32" height="10.85" fill="#a8cbe6"/>
<rect x="1176.8" y="735.6" width="24.3" height="31.1" fill="#b5cfe7"/>
<rect x="1201.1" y="735.6" width="7.7" height="15.6" fill="#a8cbe6"/>
<rect x="1208.8" y="735.6" width="16.1" height="15.6" fill="#cfe0f2"/>
<rect x="1201.1" y="751.2" width="23.8" height="15.5" fill="#a8cbe6"/>
<rect x="1224.9" y="619.5" width="32.7" height="18.9" fill="#a3c8e4"/>
<rect x="1224.9" y="638.4" width="32.7" height="18.9" fill="#7fb2d6"/>
<rect x="1257.6" y="619.5" width="11.2" height="21" fill="#65a3d0"/>
<rect x="1268.8" y="619.5" width="18.1" height="21" fill="#4088c4"/>
<rect x="1257.6" y="640.5" width="29.3" height="16.8" fill="#a3c8e4"/>
<rect x="1286.9" y="619.5" width="19.3" height="37.8" fill="#b0cde7"/>
<rect x="1224.9" y="657.3" width="30.1" height="28.9" fill="#7ab0d6"/>
<rect x="1255" y="657.3" width="13.2" height="9.6" fill="#cfe0f2"/>
<rect x="1255" y="666.9" width="13.2" height="19.3" fill="#8abbdc"/>
<rect x="1268.2" y="657.3" width="25" height="14.3" fill="#8abbdc"/>
<rect x="1268.2" y="671.6" width="25" height="14.6" fill="#94c2de"/>
<rect x="1293.2" y="657.3" width="13" height="9.6" fill="#8abbdc"/>
<rect x="1293.2" y="666.9" width="13" height="10.2" fill="#b0cde7"/>
<rect x="1293.2" y="677.1" width="13" height="9.1" fill="#5b9ecd"/>
<rect x="1224.9" y="686.2" width="17.9" height="27.2" fill="#7ab0d6"/>
<rect x="1242.8" y="686.2" width="28.8" height="27.2" fill="#a8cbe6"/>
<rect x="1271.6" y="686.2" width="11.8" height="27.2" fill="#a3c8e4"/>
<rect x="1283.4" y="686.2" width="22.8" height="21.3" fill="#85b8da"/>
<rect x="1283.4" y="707.5" width="22.8" height="5.9" fill="#94c2de"/>
<rect x="1224.9" y="713.4" width="48.5" height="45.2" fill="#2060aa"/>
<rect x="1273.4" y="713.4" width="32.8" height="30.2" fill="#2060aa"/>
<rect x="1273.4" y="743.6" width="32.8" height="15" fill="#5599cb"/>
<rect x="1224.9" y="758.7" width="65" height="8" fill="#6fa9d3"/>
<rect x="1289.9" y="758.7" width="16.3" height="8" fill="#6fa9d3"/>
<rect x="1232" y="766.7" width="35.2" height="28.3" fill="#5fa0ce"/>
<rect x="1267.2" y="766.7" width="17.2" height="28.3" fill="#1c5aa6"/>
<rect x="1284.4" y="766.7" width="21.8" height="28.3" fill="#1c5aa6"/>
</g>
<g text-anchor="middle">
<text transform="translate(186.2 149.2) scale(1 1.05)" font-size="21.63" fill="#000000">RIVER</text>
<text transform="translate(186.2 181.4) scale(1 1.05)" font-size="21.63" fill="#000000">ISLES</text>
<text transform="translate(186.2 229.2) scale(1 1.05)" font-size="13.8" fill="#000000">CENTROS</text>
<text transform="translate(93.75 422.6) scale(1 1.05)" font-size="14.83" fill="#000000">THE ESTUARY</text>
<text transform="translate(93.75 450.1) scale(1 1.05)" font-size="14.94" fill="#000000">EIGHT</text>
<text transform="translate(93.75 470.9) scale(1 1.05)" font-size="14.94" fill="#000000">COURTYARDS</text>
<text transform="translate(177.5 348.4) scale(1 1.05)" font-size="17.61" fill="#000000">PARC</text>
<text transform="translate(177.5 374.2) scale(1 1.05)" font-size="17.61" fill="#000000">VERA</text>
<text transform="translate(227.3 421.7) scale(1 1.05)" font-size="13.18" fill="#000000">RIO</text>
<text transform="translate(227.3 440.6) scale(1 1.05)" font-size="13.18" fill="#000000">VISTA</text>
<text transform="translate(252.75 169.2) scale(1 1.05)" font-size="15.55" fill="#000000">LA</text>
<text transform="translate(252.75 192.2) scale(1 1.05)" font-size="15.55" fill="#000000">FIESTA</text>
<text transform="translate(336.5 171.4) scale(1 1.05)" font-size="14.94" fill="#000000">THE</text>
<text transform="translate(336.5 192.2) scale(1 1.05)" font-size="14.94" fill="#000000">QUARTZ</text>
<text transform="translate(280.2 229.2) scale(1 1.05)" font-size="15.96" fill="#000000">CASTLE</text>
<text transform="translate(280.2 251.7) scale(1 1.05)" font-size="15.96" fill="#000000">GREEN</text>
<text transform="translate(298.1 361.4) scale(1 1.05)" font-size="23.18" fill="#000000">THE</text>
<text transform="translate(298.1 394.4) scale(1 1.05)" font-size="23.18" fill="#000000">MINTON</text>
<text transform="translate(403.25 344.5) scale(1 1.05)" font-size="12.98" fill="#000000">TERRASSE</text>
<text transform="translate(382.6 388.2) scale(1 1.05)" font-size="15.04" fill="#000000">KOVAN</text>
<text transform="translate(382.6 410.2) scale(1 1.05)" font-size="15.04" fill="#000000">MELODY</text>
<text transform="translate(298.1 452.5) scale(1 1.05)" font-size="15.66" fill="#000000">RIVERSAILS</text>
<text transform="translate(366 500.5) scale(1 1.05)" font-size="12.98" fill="#000000">HILLSTA</text>
<text transform="translate(433.6 491.6) scale(1 1.05)" font-size="14.01" fill="#000000">REGENT</text>
<text transform="translate(433.6 511.1) scale(1 1.05)" font-size="14.01" fill="#000000">HEIGHTS</text>
<text transform="translate(247.5 657.9) scale(1 1.05)" font-size="14.32" fill="#000000">ESPA</text>
<text transform="translate(157.6 699.4) scale(1 1.05)" font-size="14.83" fill="#000000">BLUE</text>
<text transform="translate(157.6 720.1) scale(1 1.05)" font-size="14.83" fill="#000000">HORIZON</text>
<text transform="translate(79.3 771.4) scale(1 1.05)" font-size="14.11" fill="#000000">HUNDRED</text>
<text transform="translate(79.3 791.9) scale(1 1.05)" font-size="14.11" fill="#000000">TREES</text>
<text transform="translate(511.5 115.5) scale(1 1.05)" font-size="15.14" fill="#000000">MELVILLE</text>
<text transform="translate(511.5 136.3) scale(1 1.05)" font-size="15.14" fill="#000000">PARK</text>
<text transform="translate(634.1 258.5) scale(1 1.05)" font-size="15.76" fill="#000000">THE</text>
<text transform="translate(634.1 280.4) scale(1 1.05)" font-size="15.76" fill="#000000">PALETTE</text>
<text transform="translate(696.9 253.4) scale(1 1.05)" font-size="17.3" fill="#000000">SEA</text>
<text transform="translate(696.9 278.1) scale(1 1.05)" font-size="17.3" fill="#000000">ESTA</text>
<text transform="translate(514.3 303.9) scale(1 1.05)" font-size="17.41" fill="#000000">PARC</text>
<text transform="translate(514.3 329.6) scale(1 1.05)" font-size="17.41" fill="#000000">OLYMPIA</text>
<text transform="translate(506.8 389.5) scale(1 1.05)" font-size="17.41" fill="#000000">D'NEST</text>
<text transform="translate(634.1 329.1) scale(1 1.05)" font-size="14.63" fill="#000000">OASIS @</text>
<text transform="translate(634.1 349.9) scale(1 1.05)" font-size="14.63" fill="#000000">ELIAS</text>
<text transform="translate(705.9 438.1) scale(1 1.05)" font-size="24.72" fill="#000000">LIVIA</text>
<text transform="translate(554.75 455.4) scale(1 1.05)" font-size="18.75" fill="#000000">RIPPLE</text>
<text transform="translate(554.75 482.9) scale(1 1.05)" font-size="18.75" fill="#000000">BAY</text>
<text transform="translate(541.75 525.8) scale(1 1.05)" font-size="14.63" fill="#000000">EUHABITAT</text>
<text transform="translate(648.6 525.8) scale(1 1.05)" font-size="13.39" fill="#000000">ECO</text>
<text transform="translate(728.4 639) scale(1 1.05)" font-size="17.3" fill="#000000">COSTA</text>
<text transform="translate(728.4 664.4) scale(1 1.05)" font-size="17.3" fill="#000000">DEL</text>
<text transform="translate(728.4 690) scale(1 1.05)" font-size="17.3" fill="#000000">SOL</text>
<text transform="translate(915.15 115.6) scale(1 1.05)" font-size="14.21" fill="#000000">BARTLEY</text>
<text transform="translate(915.15 135.6) scale(1 1.05)" font-size="14.21" fill="#000000">RIDGE</text>
<text transform="translate(1102.3 275.7) scale(1 1.05)" font-size="29.87" fill="#000000">THE</text>
<text transform="translate(1102.3 317.5) scale(1 1.05)" font-size="29.87" fill="#000000">CREST</text>
<text transform="translate(1217.8 294.7) scale(1 1.05)" font-size="13.29" fill="#000000">THE</text>
<text transform="translate(1217.8 313) scale(1 1.05)" font-size="13.29" fill="#000000">INTERLACE</text>
<text transform="translate(788.4 330.3) scale(1 1.05)" font-size="23.07" fill="#000000">SKY</text>
<text transform="translate(788.4 364) scale(1 1.05)" font-size="23.07" fill="#000000">VUE</text>
<text transform="translate(974.6 325.5) scale(1 1.05)" font-size="18.75" fill="#000000">SKY</text>
<text transform="translate(974.6 352.6) scale(1 1.05)" font-size="18.75" fill="#000000">HABITAT</text>
<text transform="translate(816.6 492.15) scale(1 1.05)" font-size="15.96" fill="#000000">KERRISDALE</text>
<text transform="translate(904.95 501.4) scale(1 1.05)" font-size="17.82" fill="#000000">COSTA</text>
<text transform="translate(904.95 527.15) scale(1 1.05)" font-size="17.82" fill="#000000">RHU</text>
<text transform="translate(802.5 592.65) scale(1 1.05)" font-size="15.96" fill="#000000">WATER</text>
<text transform="translate(802.5 615.4) scale(1 1.05)" font-size="15.96" fill="#000000">PLACE</text>
<text transform="translate(904.95 595.4) scale(1 1.05)" font-size="14.83" fill="#000000">PEBBLE</text>
<text transform="translate(904.95 616.4) scale(1 1.05)" font-size="14.83" fill="#000000">BAY</text>
<text transform="translate(980.6 526.5) scale(1 1.05)" font-size="14.21" fill="#000000">QUEENS</text>
<text transform="translate(1145.6 411.2) scale(1 1.05)" font-size="13.91" fill="#000000">THE</text>
<text transform="translate(1145.6 431.6) scale(1 1.05)" font-size="13.91" fill="#000000">ESTA</text>
<text transform="translate(1048.65 480.5) scale(1 1.05)" font-size="13.91" fill="#000000">CUBE</text>
<text transform="translate(1048.65 500.5) scale(1 1.05)" font-size="13.91" fill="#000000">8</text>
<text transform="translate(1047.4 617.6) scale(1 1.05)" font-size="15.35" fill="#000000">VIVA</text>
<text transform="translate(984.1 672.4) scale(1 1.05)" font-size="16.48" fill="#000000">D'LEEDON</text>
<text transform="translate(1186.3 786.7) scale(1 1.05)" font-size="14.01" fill="#ffffff">THE NASSIM</text>
</g>
<g fill="none" stroke="#000" stroke-width="3.9">
<rect x="38" y="86" width="42.5" height="60.7"/>
<rect x="80.5" y="86" width="69" height="60.7"/>
<rect x="38" y="146.7" width="111.5" height="70.3"/>
<rect x="38" y="217" width="111.5" height="258.7"/>
<rect x="149.5" y="86" width="73.3" height="234.9"/>
<rect x="222.8" y="86" width="180.5" height="117.9"/>
<rect x="222.8" y="203.9" width="180.5" height="117"/>
<rect x="403.3" y="86" width="69" height="234.9"/>
<rect x="149.5" y="320.9" width="322.8" height="154.8"/>
<rect x="38" y="475.7" width="106.2" height="96.3"/>
<rect x="144.2" y="475.7" width="82" height="96.3"/>
<rect x="38" y="572" width="188.2" height="96"/>
<rect x="226.2" y="475.7" width="110.8" height="192.3"/>
<rect x="38" y="668" width="299" height="127"/>
<rect x="337" y="475.7" width="135.3" height="319.3"/>
<rect x="472.3" y="86" width="289.7" height="132.6"/>
<rect x="472.3" y="218.6" width="289.7" height="276.2"/>
<rect x="472.3" y="494.8" width="289.7" height="300.2"/>
<rect x="762" y="86" width="7.8" height="30.7"/>
<rect x="769.8" y="86" width="27.6" height="30.7"/>
<rect x="762" y="116.7" width="35.4" height="45"/>
<rect x="797.4" y="86" width="63.9" height="75.7"/>
<rect x="861.3" y="86" width="14.5" height="75.7"/>
<rect x="762" y="161.7" width="114" height="135.3"/>
<rect x="876" y="86" width="151.2" height="137.6"/>
<rect x="876" y="223.6" width="87.2" height="73.2"/>
<rect x="963.2" y="223.6" width="64" height="73.2"/>
<rect x="762" y="296.8" width="265.2" height="97.7"/>
<rect x="762" y="394.5" width="186" height="225"/>
<rect x="948" y="394.5" width="79.3" height="225"/>
<rect x="1027.2" y="86" width="231" height="254.4"/>
<rect x="1258.2" y="86" width="48" height="533.5"/>
<rect x="1027.3" y="340.4" width="231" height="93.9"/>
<rect x="1027.3" y="434.3" width="149.7" height="185.2"/>
<rect x="1177" y="434.3" width="81.2" height="185.2"/>
<rect x="762" y="619.5" width="378.6" height="175.5"/>
<rect x="1140.6" y="619.5" width="165.6" height="175.5"/>
</g>
<rect x="82.9" y="108.5" width="62.3" height="15" fill="#63a0d2" fill-opacity="0.87"/><text transform="translate(114 123.01) scale(1 1.05)" font-size="16.6" fill="#000000" text-anchor="middle">YISHUN</text>
<rect x="42" y="173.3" width="103" height="17.5" fill="#13489c" fill-opacity="0.87"/><text transform="translate(93.5 188.77) scale(1 1.05)" font-size="18.5" fill="#ffffff" text-anchor="middle">Sembawang</text>
<rect x="153.7" y="195" width="66.3" height="16.7" fill="#0c2259" fill-opacity="0.87"/><text transform="translate(186.8 209.75) scale(1 1.05)" font-size="18" fill="#ffffff" text-anchor="middle">Punggol</text>
<rect x="49.2" y="382.2" width="90" height="27.3" fill="#0c2259" fill-opacity="0.87"/><text transform="translate(94.2 407.1) scale(1 1.05)" font-size="29.3" fill="#ffffff" text-anchor="middle">Yishun</text>
<rect x="64.2" y="479.5" width="53.6" height="88.3" fill="#205fab" fill-opacity="0.87"/><text transform="translate(91 501.46) scale(1 1.05)" font-size="21.6" fill="#ffffff" text-anchor="middle">Choa</text><text transform="translate(91 533.16) scale(1 1.05)" font-size="21.6" fill="#ffffff" text-anchor="middle">Chu</text><text transform="translate(91 564.86) scale(1 1.05)" font-size="21.6" fill="#ffffff" text-anchor="middle">Kang</text>
<rect x="148" y="494.2" width="75" height="59.1" fill="#0c2259" fill-opacity="0.87"/><text transform="translate(185.5 516.54) scale(1 1.05)" font-size="24" fill="#ffffff" text-anchor="middle">Jurong</text><text transform="translate(185.5 551.04) scale(1 1.05)" font-size="24" fill="#ffffff" text-anchor="middle">East</text>
<rect x="50" y="606.3" width="163.8" height="27.4" fill="#0c2259" fill-opacity="0.87"/><text transform="translate(131.9 631.39) scale(1 1.05)" font-size="29" fill="#ffffff" text-anchor="middle">Jurong West</text>
<rect x="231" y="538.3" width="102" height="67.3" fill="#0c2259" fill-opacity="0.87"/><text transform="translate(282 563.23) scale(1 1.05)" font-size="27" fill="#ffffff" text-anchor="middle">Bukit</text><text transform="translate(282 602.43) scale(1 1.05)" font-size="27" fill="#ffffff" text-anchor="middle">Panjang</text>
<rect x="130" y="718.3" width="115" height="27.5" fill="#0c2259" fill-opacity="0.87"/><text transform="translate(187.5 743.2) scale(1 1.05)" font-size="29.3" fill="#ffffff" text-anchor="middle">Clementi</text>
<rect x="367.2" y="599.4" width="74.6" height="72.3" fill="#0c2259" fill-opacity="0.87"/><text transform="translate(404.5 626.3) scale(1 1.05)" font-size="29.3" fill="#ffffff" text-anchor="middle">Bukit</text><text transform="translate(404.5 669.3) scale(1 1.05)" font-size="29.3" fill="#ffffff" text-anchor="middle">Batok</text>
<rect x="247" y="131.3" width="131.8" height="27" fill="#0c2259" fill-opacity="0.87"/><text transform="translate(312.9 155.6) scale(1 1.05)" font-size="29.3" fill="#ffffff" text-anchor="middle">Sengkang</text>
<rect x="237.5" y="249.2" width="151.3" height="27.5" fill="#0c2259" fill-opacity="0.87"/><text transform="translate(313.1 273.9) scale(1 1.05)" font-size="29.3" fill="#ffffff" text-anchor="middle">Ang Mo Kio</text>
<rect x="406" y="198.2" width="62.2" height="11.4" fill="#0c2259" fill-opacity="0.87"/><text transform="translate(437.1 208.69) scale(1 1.05)" font-size="12.7" fill="#ffffff" text-anchor="middle">Serangoon</text>
<rect x="251" y="385.2" width="118.8" height="27.7" fill="#0c2259" fill-opacity="0.87"/><text transform="translate(310.4 410.2) scale(1 1.05)" font-size="29.3" fill="#ffffff" text-anchor="middle">Hougang</text>
<rect x="552" y="138.4" width="129.1" height="27.4" fill="#0c2259" fill-opacity="0.87"/><text transform="translate(616.5 163.3) scale(1 1.05)" font-size="29.3" fill="#ffffff" text-anchor="middle">Tampines</text>
<rect x="558" y="343.1" width="117.8" height="27.5" fill="#0c2259" fill-opacity="0.87"/><text transform="translate(616.9 367.9) scale(1 1.05)" font-size="29.3" fill="#ffffff" text-anchor="middle">Pasir Ris</text>
<rect x="575.3" y="631.2" width="82.8" height="27.7" fill="#0c2259" fill-opacity="0.87"/><text transform="translate(616.7 656.3) scale(1 1.05)" font-size="29.3" fill="#ffffff" text-anchor="middle">Bedok</text>
<rect x="800" y="115.4" width="58.1" height="17.2" fill="#0c2259" fill-opacity="0.87"/><text transform="translate(829 131.55) scale(1 1.05)" font-size="18" fill="#ffffff" text-anchor="middle">Rochor</text>
<rect x="767.2" y="216.25" width="103.7" height="26.25" fill="#0c2259" fill-opacity="0.87"/><text transform="translate(819 240.25) scale(1 1.05)" font-size="27.8" fill="#ffffff" text-anchor="middle">Geylang</text>
<rect x="910.2" y="119" width="82.8" height="72" fill="#0c2259" fill-opacity="0.87"/><text transform="translate(951.6 145.4) scale(1 1.05)" font-size="29.3" fill="#ffffff" text-anchor="middle">Toa</text><text transform="translate(951.6 188.4) scale(1 1.05)" font-size="29.3" fill="#ffffff" text-anchor="middle">Payoh</text>
<rect x="879.1" y="239" width="80.9" height="42.7" fill="#0c2259" fill-opacity="0.87"/><text transform="translate(919.5 255.34) scale(1 1.05)" font-size="17.7" fill="#ffffff" text-anchor="middle">Singapore</text><text transform="translate(919.5 280.04) scale(1 1.05)" font-size="17.7" fill="#ffffff" text-anchor="middle">River</text>
<rect x="965.75" y="243.5" width="59.55" height="34.1" fill="#0c2259" fill-opacity="0.87"/><text transform="translate(995.5 255.95) scale(1 1.05)" font-size="14.7" fill="#ffffff" text-anchor="middle">Southern</text><text transform="translate(995.5 277.45) scale(1 1.05)" font-size="14.7" fill="#ffffff" text-anchor="middle">Islands</text>
<rect x="1064.2" y="199.2" width="156.6" height="28.3" fill="#0c2259" fill-opacity="0.87"/><text transform="translate(1142.5 224.4) scale(1 1.05)" font-size="29.3" fill="#ffffff" text-anchor="middle">Bukit Merah</text>
<rect x="1260.3" y="332.5" width="42.2" height="40" fill="#0c2259" fill-opacity="0.87"/><text transform="translate(1281.4 347.97) scale(1 1.05)" font-size="15.4" fill="#ffffff" text-anchor="middle">River</text><text transform="translate(1281.4 370.97) scale(1 1.05)" font-size="15.4" fill="#ffffff" text-anchor="middle">Valley</text>
<rect x="850.2" y="332.5" width="88.55" height="26.9" fill="#0c2259" fill-opacity="0.87"/><text transform="translate(894.5 357.2) scale(1 1.05)" font-size="29.3" fill="#ffffff" text-anchor="middle">Bishan</text>
<rect x="1046" y="374.2" width="192.7" height="27.3" fill="#0c2259" fill-opacity="0.87"/><text transform="translate(1142.3 399.1) scale(1 1.05)" font-size="29.3" fill="#ffffff" text-anchor="middle">Marine Parade</text>
<rect x="806.25" y="493.75" width="98" height="27" fill="#0c2259" fill-opacity="0.87"/><text transform="translate(855.25 517.8) scale(1 1.05)" font-size="29.3" fill="#ffffff" text-anchor="middle">Kallang</text>
<rect x="951.25" y="501.25" width="73.25" height="11.25" fill="#0c2259" fill-opacity="0.87"/><text transform="translate(987.9 511.65) scale(1 1.05)" font-size="13" fill="#ffffff" text-anchor="middle">Queenstown</text>
<rect x="1051.9" y="513.1" width="100.8" height="27.1" fill="#0c2259" fill-opacity="0.87"/><text transform="translate(1102.3 537.9) scale(1 1.05)" font-size="29.3" fill="#ffffff" text-anchor="middle">Novena</text>
<rect x="1180.4" y="517.3" width="74.6" height="18.7" fill="#0c2259" fill-opacity="0.87"/><text transform="translate(1217.7 535.07) scale(1 1.05)" font-size="21.8" fill="#ffffff" text-anchor="middle">Newton</text>
<rect x="874.2" y="693.2" width="154.7" height="27.5" fill="#0c2259" fill-opacity="0.87"/><text transform="translate(951.5 717.9) scale(1 1.05)" font-size="29.3" fill="#ffffff" text-anchor="middle">Bukit Timah</text>
<rect x="1175.7" y="693.3" width="95.9" height="27.45" fill="#0c2259" fill-opacity="0.87"/><text transform="translate(1223.6 717.9) scale(1 1.05)" font-size="29.3" fill="#ffffff" text-anchor="middle">Tanglin</text>
<g fill="none" stroke="#000" stroke-width="7.6" stroke-linejoin="round">
<rect x="38" y="86" width="111.5" height="389.7"/>
<rect x="149.5" y="86" width="322.8" height="389.7"/>
<rect x="38" y="475.7" width="434.3" height="319.3"/>
<rect x="472.3" y="86" width="289.7" height="709"/>
<rect x="762" y="86" width="544.2" height="709"/>
</g>
<rect x="44.2" y="244.7" width="99.1" height="72.1" fill="#0c2259" fill-opacity="0.87"/><text transform="translate(93.75 270.59) scale(1 1.05)" font-size="28.9" fill="#ffffff" text-anchor="middle" font-weight="bold">North</text><text transform="translate(93.75 312.49) scale(1 1.05)" font-size="28.9" fill="#ffffff" text-anchor="middle" font-weight="bold">Region</text>
<rect x="184" y="266.9" width="255" height="28.2" fill="#0c2259" fill-opacity="0.87"/><text transform="translate(311.5 292.7) scale(1 1.05)" font-size="29.2" fill="#ffffff" text-anchor="middle" font-weight="bold">North East Region</text>
<rect x="166.5" y="621.8" width="177.2" height="28.2" fill="#0c2259" fill-opacity="0.87"/><text transform="translate(255 647.2) scale(1 1.05)" font-size="29.2" fill="#ffffff" text-anchor="middle" font-weight="bold">West Region</text>
<rect x="532.8" y="427" width="169.4" height="28.1" fill="#0c2259" fill-opacity="0.87"/><text transform="translate(617.5 452.7) scale(1 1.05)" font-size="29.2" fill="#ffffff" text-anchor="middle" font-weight="bold">East Region</text>
<rect x="930" y="426.8" width="207.8" height="28.4" fill="#0c2259" fill-opacity="0.87"/><text transform="translate(1033.9 453.1) scale(1 1.05)" font-size="29.2" fill="#ffffff" text-anchor="middle" font-weight="bold">Central Region</text>
<g stroke="#000" stroke-width="1.3">
<rect x="71.25" y="846.25" width="133.5" height="20.5" fill="#f5f9fe"/>
<rect x="204.75" y="846.25" width="133.5" height="20.5" fill="#dce9f6"/>
<rect x="338.25" y="846.25" width="133.5" height="20.5" fill="#bfd4eb"/>
<rect x="471.75" y="846.25" width="133.5" height="20.5" fill="#92c0dd"/>
<rect x="605.25" y="846.25" width="133.5" height="20.5" fill="#5b9dcb"/>
<rect x="738.75" y="846.25" width="133.5" height="20.5" fill="#357dba"/>
<rect x="872.25" y="846.25" width="133.5" height="20.5" fill="#1d58a3"/>
<rect x="1005.75" y="846.25" width="133.5" height="20.5" fill="#0e3783"/>
<rect x="1139.25" y="846.25" width="133.5" height="20.5" fill="#0c2259"/>
</g>
<g font-size="25" text-anchor="middle" fill="#000">
<text transform="translate(140.5 892.3) scale(1 1.04)">5000</text>
<text transform="translate(271.5 892.3) scale(1 1.04)">10000</text>
<text transform="translate(405 892.3) scale(1 1.04)">15000</text>
<text transform="translate(538.5 892.3) scale(1 1.04)">20000</text>
<text transform="translate(672 892.3) scale(1 1.04)">25000</text>
<text transform="translate(805.5 892.3) scale(1 1.04)">30000</text>
<text transform="translate(939 892.3) scale(1 1.04)">35000</text>
<text transform="translate(1072.5 892.3) scale(1 1.04)">40000</text>
<text transform="translate(1206 892.3) scale(1 1.04)">45000</text>
</g>
<text transform="translate(671.5 931) scale(1 1.05)" font-size="32" text-anchor="middle" fill="#000">Median Unit Price (S$ per sq. m)</text>
</svg></body></html>
